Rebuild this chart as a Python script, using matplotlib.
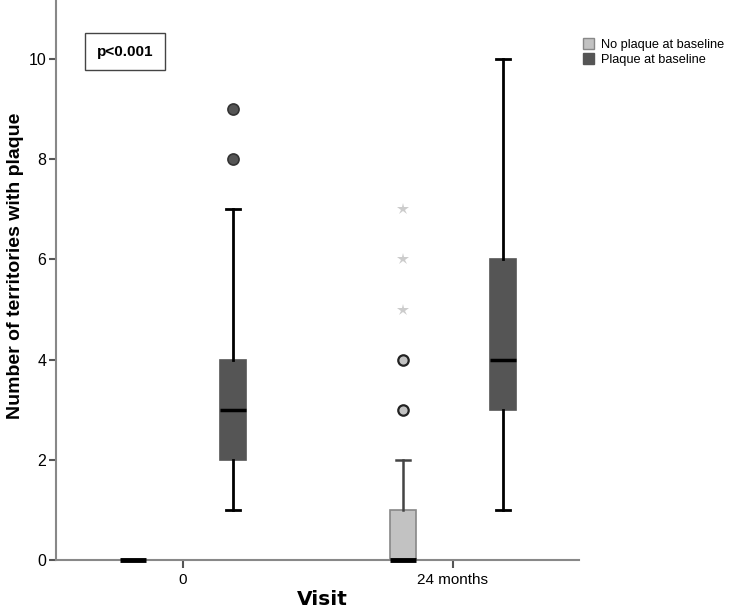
import matplotlib.pyplot as plt
from matplotlib.patches import Patch

plt.rcParams['font.family'] = ['Liberation Sans', 'DejaVu Sans']

# Visits on the x axis
visits = ['0', '24 months']
groups = ['No plaque at baseline', 'Plaque at baseline']

# Box statistics: [visit 0, visit 24 months]
no_plaque_q1 = [0, 0]
no_plaque_med = [0, 0]
no_plaque_q3 = [0, 1]
no_plaque_lo = [0, 0]
no_plaque_hi = [0, 2]
no_plaque_circles = [[], [3, 4]]
no_plaque_stars = [[], [5, 6, 7]]

plaque_q1 = [2, 3]
plaque_med = [3, 4]
plaque_q3 = [4, 6]
plaque_lo = [1, 1]
plaque_hi = [7, 10]
plaque_circles = [[8, 9], []]

light = '#c2c2c2'
dark = '#555555'

fig = plt.figure(figsize=(7.3, 6.15), dpi=100)
ax = fig.add_axes([0.0767, 0.0894, 0.7164, 0.9106])

offset = 0.185
width = 0.096


def stats(q1, med, q3, lo, hi):
    return [dict(q1=q1[i], med=med[i], q3=q3[i], whislo=lo[i], whishi=hi[i], fliers=[])
            for i in range(len(visits))]


pos = list(range(len(visits)))

ax.bxp(stats(no_plaque_q1, no_plaque_med, no_plaque_q3, no_plaque_lo, no_plaque_hi),
       positions=[p - offset for p in pos], widths=width, patch_artist=True,
       showfliers=False, capwidths=0.05,
       boxprops=dict(facecolor=light, edgecolor='#888888', linewidth=1.2),
       whiskerprops=dict(color='#444444', linewidth=1.8),
       capprops=dict(color='#444444', linewidth=1.8),
       medianprops=dict(color='black', linewidth=3.5, clip_on=False, zorder=5))

ax.bxp(stats(plaque_q1, plaque_med, plaque_q3, plaque_lo, plaque_hi),
       positions=[p + offset for p in pos], widths=width, patch_artist=True,
       showfliers=False, capwidths=0.05,
       boxprops=dict(facecolor=dark, edgecolor=dark, linewidth=1.2),
       whiskerprops=dict(color='black', linewidth=2),
       capprops=dict(color='black', linewidth=2),
       medianprops=dict(color='black', linewidth=2.5))

# outliers
for i in pos:
    for v in no_plaque_circles[i]:
        ax.plot(i - offset, v, 'o', ms=7.5, mfc=light, mec='#222222', mew=1.6)
    for v in no_plaque_stars[i]:
        ax.plot(i - offset, v, '*', ms=9, color='#cccccc', mew=0)
    for v in plaque_circles[i]:
        ax.plot(i + offset, v, 'o', ms=8, mfc=dark, mec='#333333', mew=1.2)

ax.set_xlim(-0.47, 1.467)
ax.set_ylim(0, 11.18)
ax.set_xticks(pos)
ax.set_xticklabels(visits)
ax.set_yticks(range(0, 11, 2))

for s in ['top', 'right']:
    ax.spines[s].set_visible(False)
for s in ['left', 'bottom']:
    ax.spines[s].set_color('#888888')
    ax.spines[s].set_linewidth(1.5)
ax.tick_params(axis='y', length=5, width=1.5, color='#555555', labelsize=11.5, pad=2)
ax.tick_params(axis='x', length=6, width=1.5, color='#555555', labelsize=11, pad=3)

ax.set_ylabel('Number of territories with plaque', fontsize=14, fontweight='bold')
ax.yaxis.set_label_coords(-0.062, 0.525)
ax.set_xlabel('Visit', fontsize=14.5, fontweight='bold', family='DejaVu Sans')
ax.xaxis.set_label_coords(0.51, -0.054)

ax.text(0.078, 0.908, 'p<0.001', transform=ax.transAxes, fontsize=11, fontweight='bold',
        va='center', ha='left',
        bbox=dict(boxstyle='square,pad=0.75', facecolor='white', edgecolor='#444444', linewidth=1))

handles = [Patch(facecolor=light, edgecolor='#888888'), Patch(facecolor=dark, edgecolor=dark)]
fig.legend(handles, groups, loc='upper left', bbox_to_anchor=(0.786, 0.952), frameon=False,
           fontsize=9.2, handlelength=0.9, handleheight=0.9, handletextpad=0.5,
           labelspacing=0.15, borderpad=0.2)

fig.savefig('out.png', dpi=100)
